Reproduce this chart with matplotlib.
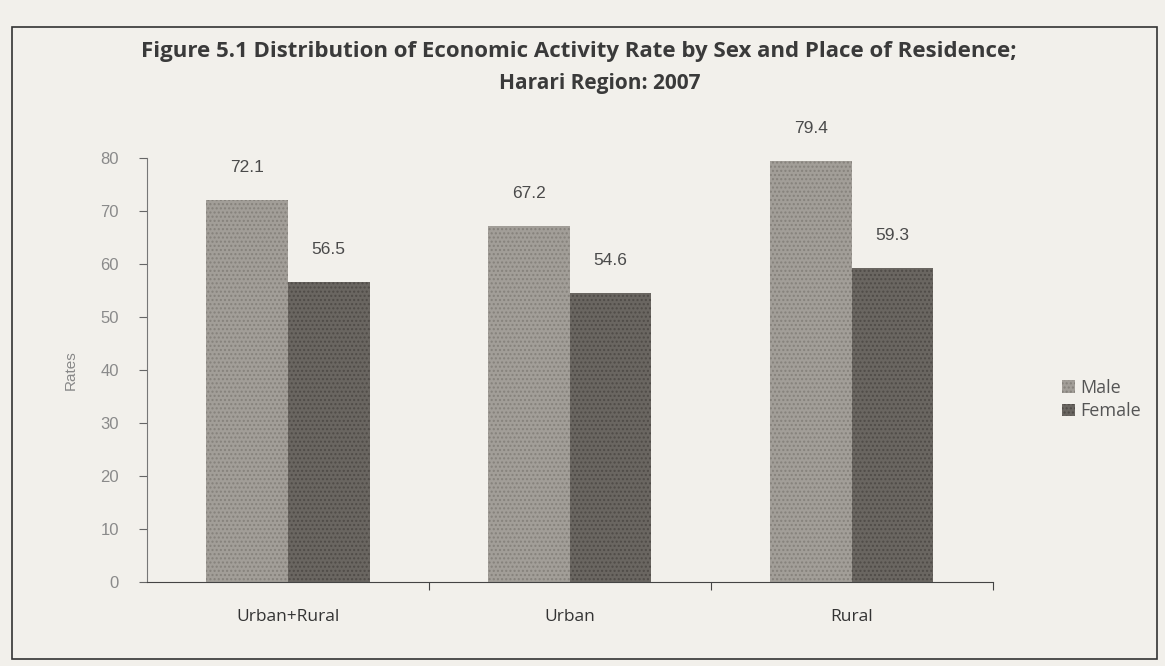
import matplotlib
matplotlib.use("Agg")
import matplotlib.pyplot as plt
from matplotlib.patches import Rectangle
import numpy as np

categories = ["Urban+Rural", "Urban", "Rural"]
male = [72.1, 67.2, 79.4]
female = [56.5, 54.6, 59.3]
series_names = ["Male", "Female"]
yticks = [0, 10, 20, 30, 40, 50, 60, 70, 80]
title1 = "Figure 5.1 Distribution of Economic Activity Rate by Sex and Place of Residence;"
title2 = "Harari Region: 2007"

paper = "#f2f0eb"
male_c = "#a29e98"
female_c = "#6a6661"

fig = plt.figure(figsize=(11.65, 6.66), dpi=100, facecolor=paper)
ax = fig.add_axes([0.126, 0.126, 0.726, 0.637])
ax.set_facecolor(paper)

x = np.arange(len(categories))
w = 0.29
b1 = ax.bar(x - w / 2, male, w, color=male_c, hatch="....", edgecolor="#85817b", linewidth=0, label=series_names[0])
b2 = ax.bar(x + w / 2, female, w, color=female_c, hatch="....", edgecolor="#4f4b47", linewidth=0, label=series_names[1])

for rect, v in zip(list(b1) + list(b2), male + female):
    ax.annotate(f"{v}", (rect.get_x() + rect.get_width() / 2, v), xytext=(0, 18),
                textcoords="offset points", ha="center", va="bottom",
                fontsize=12.5, color="#4a4a4a", family="Liberation Sans")

ax.set_ylim(0, 80)
ax.set_xlim(-0.5, 2.5)
ax.set_yticks(yticks)
ax.set_yticklabels([str(t) for t in yticks], fontsize=12, color="#8a8a8a", family="Liberation Sans")
ax.tick_params(axis="y", direction="out", length=6, color="#666666", pad=14)
ax.set_xticks([0.5, 1.5, 2.5])
ax.set_xticklabels([])
ax.tick_params(axis="x", direction="out", length=6, color="#444444")
for i, c in enumerate(categories):
    ax.text(i, -6.5, c, ha="center", va="center", fontsize=12.5, color="#333333", family="Open Sans")

for s in ["top", "right"]:
    ax.spines[s].set_visible(False)
ax.spines["left"].set_color("#777777")
ax.spines["left"].set_linestyle((0, (3, 1)))
ax.spines["bottom"].set_color("#444444")

ax.set_ylabel("Rates", fontsize=11, color="#888888", family="Liberation Sans", labelpad=16)

fig.text(0.497, 0.922, title1, ha="center", va="center", fontsize=16, fontweight="bold",
         color="#3a3a3a", family="Open Sans")
fig.text(0.515, 0.874, title2, ha="center", va="center", fontsize=15, fontweight="bold",
         color="#3a3a3a", family="Open Sans")

leg = fig.legend(handles=[b1, b2], labels=series_names, loc="center left",
                 bbox_to_anchor=(0.898, 0.4), frameon=False, fontsize=13,
                 handlelength=0.7, handleheight=0.7, handletextpad=0.3,
                 labelspacing=0.3, labelcolor="#555555")
for t in leg.get_texts():
    t.set_family("Open Sans")

fig.patches.append(Rectangle((0.01, 0.01), 0.983, 0.95, transform=fig.transFigure,
                             fill=False, edgecolor="#333333", linewidth=1.2))

fig.savefig("out.png", dpi=100, facecolor=paper)
